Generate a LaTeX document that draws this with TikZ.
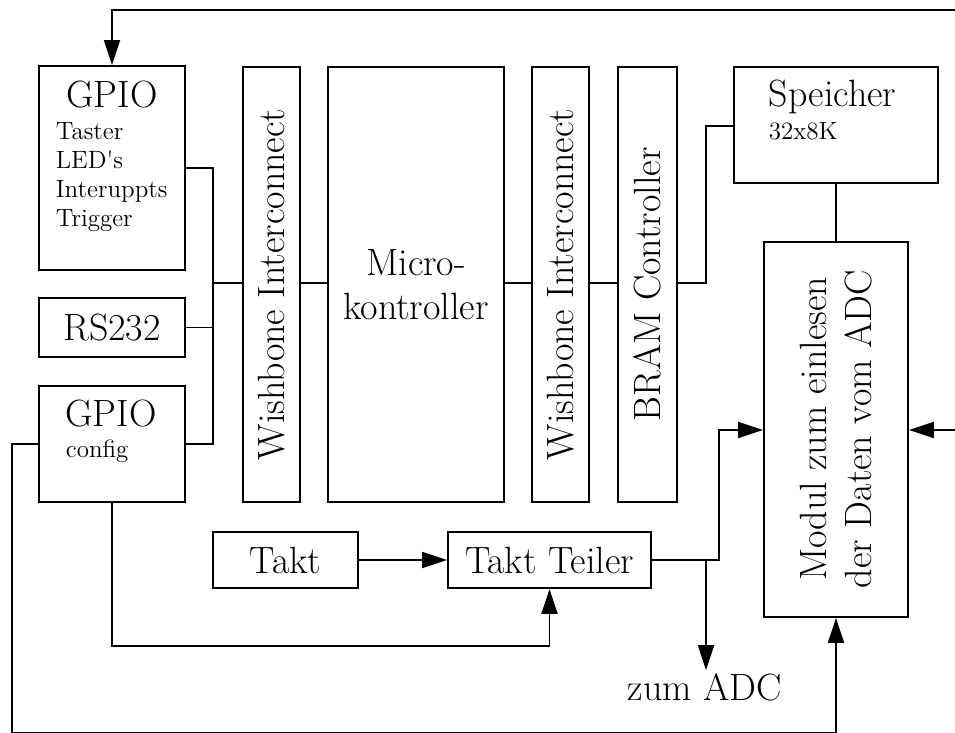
\documentclass[tikz,border=0pt]{standalone}
\usetikzlibrary{arrows.meta}
\begin{document}
\begin{tikzpicture}[x=0.5pt,y=-0.5pt,
  line width=0.9pt,
  blk/.style args={#1/#2}{draw,line width=0.9pt,minimum width=#1*0.5pt,minimum height=#2*0.5pt,inner sep=0pt},
  bigtxt/.style={font=\fontsize{19pt}{22pt}\selectfont,inner sep=0pt},
  smalltxt/.style={font=\fontsize{12.5pt}{14.5pt}\selectfont,inner sep=0pt},
  arr/.style={-{Triangle[length=12.5pt,width=8pt]}}]
\fill[white] (0,0) rectangle (955,733);
\useasboundingbox (0,0) rectangle (955,733);

% left column: I/O peripherals
\node[blk=146/204] (gpioA) at (112,168) {};
\node[bigtxt] (gpioAt) at (112,95) {GPIO};
\node[smalltxt,anchor=base west] (tast) at (55,140) {Taster};
\node[smalltxt,anchor=base west] (leds) at (55,169) {LED{\textquotesingle}s};
\node[smalltxt,anchor=base west] (intr) at (55,198) {Interuppts};
\node[smalltxt,anchor=base west] (trig) at (55,227) {Trigger};

\node[blk=146/59,bigtxt] (rs) at (112,327.5) {RS232};

\node[blk=146/116] (gpioB) at (112,444) {};
\node[bigtxt,anchor=base] (gpioBt) at (111,427) {GPIO};
\node[smalltxt,anchor=base west] (cfg) at (65,458) {config};

% bus, processor and memory controller
\node[blk=57/435] (wb1) at (271.5,284.5) {};
\node[bigtxt,rotate=90] (wb1t) at (271.5,284.5) {Wishbone Interconnect};
\node[blk=176/435] (mc) at (416,284.5) {};
\node[bigtxt,align=center] (mct) at (416,285) {Micro-\\kontroller};
\node[blk=57/435] (wb2) at (560.5,284.5) {};
\node[bigtxt,rotate=90] (wb2t) at (560.5,284.5) {Wishbone Interconnect};
\node[blk=59/435] (bram) at (647.5,284.5) {};
\node[bigtxt,rotate=90] (bramt) at (647.5,284.5) {BRAM Controller};

% memory and ADC reader
\node[blk=204/116] (spk) at (836,125) {};
\node[bigtxt,anchor=base west] (spkt) at (768,107) {Speicher};
\node[smalltxt,anchor=base west] (spks) at (768,140) {32x8K};
\node[blk=144/375] (modul) at (836,429.5) {};
\node[bigtxt,rotate=90,align=center,font=\fontsize{19pt}{22.5pt}\selectfont] (modult) at (836,429) {Modul zum einlesen\\der Daten vom ADC};

% clock
\node[blk=145/56,bigtxt] (takt) at (285.5,560) {Takt};
\node[blk=203/56,bigtxt] (teiler) at (549.5,560) {Takt Teiler};
\node[bigtxt,anchor=base,inner sep=1pt] (zum) at (705,700) {zum ADC};

% junction points
\coordinate (busL) at (213,283);
\coordinate (kb) at (706,126);
\coordinate (topR) at (955,10);
\coordinate (inR) at (955,430);
\coordinate (j1) at (706,560);
\coordinate (j2) at (719,430);
\coordinate (c1) at (112,646);
\coordinate (b1) at (12,733);

% peripheral bus
\draw (gpioA.east) -| (busL) |- (gpioB.east);
\draw (rs.east) -- (rs.east -| busL);
\draw (busL) -- (wb1.west |- busL);
\draw (wb1.east |- busL) -- (mc.west |- busL);
\draw (mc.east |- busL) -- (wb2.west |- busL);
\draw (wb2.east |- busL) -- (bram.west |- busL);
\draw (bram.east |- busL) -| (kb) -- (spk.west |- kb);
\draw (spk.south) -- (modul.north);

% external signals
\draw[arr] (topR) -| (gpioA.north);
\draw[arr] (inR) -- (modul.east |- inR);

% clock paths
\draw[arr] (takt.east) -- (teiler.west);
\draw[arr] (teiler.east) -| (j2) -- (modul.west |- j2);
\draw[arr] (j1) -- (j1 |- zum.north);
\draw[arr] (gpioB.south) -- (c1) -| (teiler.south);
\draw[arr] (gpioB.west) -| (b1) -| (modul.south);
\end{tikzpicture}
\end{document}
